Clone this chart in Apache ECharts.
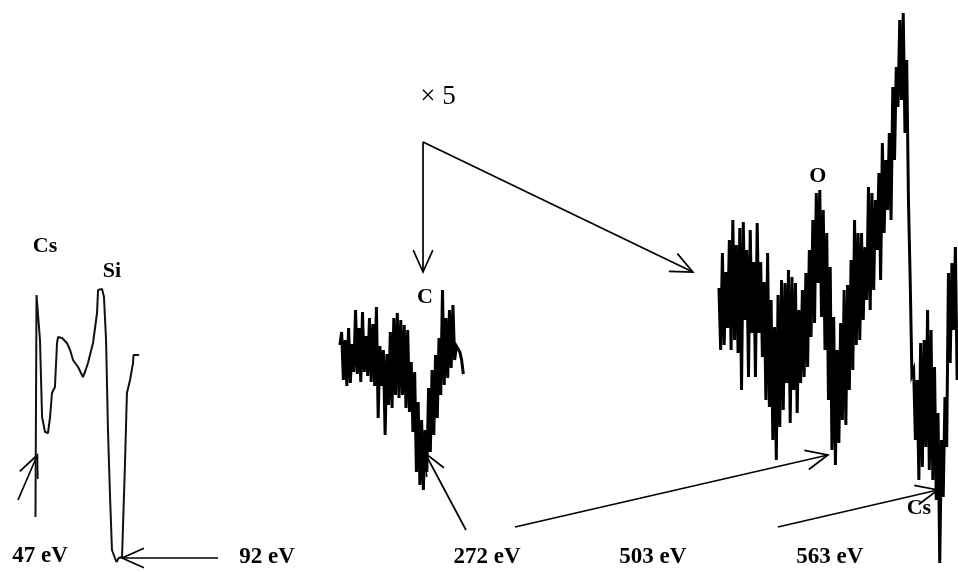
<!DOCTYPE html>
<html>
<head>
<meta charset="utf-8">
<script src="https://cdn.jsdelivr.net/npm/echarts@6/dist/echarts.min.js"></script>
<style>
  html, body { margin: 0; padding: 0; background: #fff; }
  #chart { width: 958px; height: 572px; }
</style>
</head>
<body>
<div id="chart"></div>
<script>
// Auger electron spectrum, dN/dE in arbitrary units against kinetic energy (eV).

// Low-energy part (Cs and Si transitions), recorded at normal gain
const lowEnergy = [45.9, 46.5, 48.5, 49.7, 51.4, 53.1, 54.3, 55.4, 57.1, 58.3,
  58.9, 61.2, 64.0, 65.8, 67.5, 70.4, 73.2, 74.4, 76.1, 79.0,
  81.3, 81.9, 84.2, 85.3, 86.5, 87.6, 88.8, 89.9, 91.6, 92.5,
  93.8, 95.7, 97.4, 98.5, 100.3, 102.0, 102.3, 104.3, 104.8, 105.5];
const lowSignal = [55, 277, 232, 155, 140, 139, 155, 179, 185, 229,
  235, 234, 229, 222, 212, 205, 195, 200, 209, 229,
  259, 282, 283, 275, 232, 142, 75, 22, 14, 10,
  14, 15, 109, 179, 192, 209, 217, 217, 215, 217];

// Carbon window (x5 gain), one reading per eV starting at cScanStart
const cScanStart = 221;
const cSignal = [227, 240, 192, 232, 186, 244, 189, 228, 200, 262,
  198, 244, 190, 260, 200, 236, 196, 254, 190, 248,
  186, 265, 154, 226, 186, 222, 137, 218, 167, 240,
  164, 254, 177, 259, 174, 252, 177, 247, 164, 242,
  160, 210, 140, 200, 100, 170, 87, 152, 82, 142,
  100, 184, 120, 202, 137, 217, 154, 234, 177, 282,
  187, 254, 194, 262, 204, 267, 212, 226, 224, 220,
  212, 198];

// Oxygen / Cs MNN window (x5 gain), one reading per eV starting at oScanStart
const oScanStart = 439;
const oSignal = [284, 222, 319, 227, 300, 244, 332, 222, 352, 232,
  327, 219, 344, 182, 350, 252, 322, 195, 342, 239,
  310, 195, 349, 239, 310, 215, 290, 172, 319, 165,
  272, 132, 245, 112, 277, 145, 292, 162, 289, 189,
  302, 149, 295, 182, 289, 159, 262, 189, 282, 195,
  299, 205, 322, 235, 352, 249, 379, 289, 382, 255,
  362, 222, 339, 172, 305, 122, 255, 107, 222, 129,
  249, 152, 282, 147, 287, 182, 312, 202, 352, 227,
  339, 232, 339, 252, 325, 272, 385, 262, 379, 282,
  372, 322, 399, 292, 429, 339, 412, 362, 439, 352,
  485, 412, 505, 465, 552, 472, 559, 439, 512, 372,
  292, 197, 202, 132, 192, 92, 229, 105, 232, 125,
  262, 102, 242, 92, 205, 72, 159, 9, 132, 75,
  175, 125, 299, 209, 309, 242, 325, 192];

// Element assignments and marked transition energies
const peakNames = ['Cs', 'Si', 'C', 'O', 'Cs'];
const markedEnergies = [47, 92, 272, 503, 563];
const gainNote = '\u00d7 5';

// ---- annotation layout (energy / intensity units) ----
const peakLabelAt = [[51.4, 326], [89.9, 301], [269.9, 275], [495.9, 396], [554.0, 64]];
const energyLabelAt = [[48.5, 16], [179.1, 15], [305.6, 15], [401.0, 15], [502.8, 15]];
const energyArrowTail = [[35.85, 72], [150.9, 14], [293.5, 42], [321.7, 45], [472.9, 45]];
const energyArrowTipShift = [0, 3.7, -2.1, -1.3, 1.9];
const energyArrowTipLevel = [117, 14, 119, 117, 82];
const gainNoteAt = [277.4, 475];
const gainBracketCorner = [268.8, 430];
const gainBracketTips = [[268.8, 300], [424.0, 300]];

const lowData = lowEnergy.map((e, i) => [e, lowSignal[i]]);
const cData = cSignal.map((v, i) => [cScanStart + i, v]);
const oData = oSignal.map((v, i) => [oScanStart + i, v]);

const arrows = markedEnergies.map((e, i) => [
  energyArrowTail[i][0], energyArrowTail[i][1],
  e + energyArrowTipShift[i], energyArrowTipLevel[i]
]);
gainBracketTips.forEach(t => arrows.push([gainBracketCorner[0], gainBracketCorner[1], t[0], t[1]]));

const texts = [];
peakNames.forEach((n, i) => texts.push([peakLabelAt[i][0], peakLabelAt[i][1], n, 'peak']));
markedEnergies.forEach((e, i) => texts.push([energyLabelAt[i][0], energyLabelAt[i][1], e + ' eV', 'energy']));
texts.push([gainNoteAt[0], gainNoteAt[1], gainNote, 'gain']);

const SERIF = '"Liberation Serif", "Times New Roman", serif';

function renderArrow(params, api) {
  const a = api.coord([api.value(0), api.value(1)]);
  const b = api.coord([api.value(2), api.value(3)]);
  const ang = Math.atan2(b[1] - a[1], b[0] - a[0]);
  const len = 24, spread = 0.42;
  const h1 = [b[0] - len * Math.cos(ang - spread), b[1] - len * Math.sin(ang - spread)];
  const h2 = [b[0] - len * Math.cos(ang + spread), b[1] - len * Math.sin(ang + spread)];
  const st = { stroke: '#000', lineWidth: 1.7, fill: null };
  return {
    type: 'group',
    children: [
      { type: 'polyline', shape: { points: [a, b] }, style: st },
      { type: 'polyline', shape: { points: [h1, b, h2] }, style: st }
    ]
  };
}

function renderText(params, api) {
  const item = texts[params.dataIndex];
  const p = api.coord([item[0], item[1]]);
  const kind = item[3];
  let font;
  if (kind === 'gain') font = { fontSize: 27, fontWeight: 'normal' };
  else if (kind === 'energy') font = { fontSize: 23, fontWeight: 'bold' };
  else font = { fontSize: 22, fontWeight: 'bold' };
  return {
    type: 'text',
    x: p[0], y: p[1],
    style: {
      text: item[2],
      fontFamily: SERIF,
      fontSize: font.fontSize,
      fontWeight: font.fontWeight,
      fill: '#000',
      align: 'center',
      verticalAlign: 'middle'
    }
  };
}

const chart = echarts.init(document.getElementById('chart'), null, { renderer: 'canvas' });
chart.setOption({
  animation: false,
  backgroundColor: '#fff',
  grid: { left: 0, right: 0, top: 0, bottom: 0 },
  xAxis: { type: 'value', min: 25.5, max: 576.5, show: false },
  yAxis: { type: 'value', min: 0, max: 572, show: false },
  series: [
    {
      type: 'line', data: lowData, showSymbol: false, clip: false,
      lineStyle: { color: '#111', width: 2 }
    },
    {
      type: 'line', data: cData, showSymbol: false, clip: false,
      lineStyle: { color: '#000', width: 3, join: 'miter' }
    },
    {
      type: 'line', data: oData, showSymbol: false, clip: false,
      lineStyle: { color: '#000', width: 3, join: 'miter' }
    },
    {
      type: 'custom', renderItem: renderArrow, data: arrows, clip: false,
      encode: { x: [0, 2], y: [1, 3] }, silent: true
    },
    {
      type: 'custom', renderItem: renderText, data: texts.map(t => [t[0], t[1]]), clip: false,
      encode: { x: 0, y: 1 }, silent: true
    }
  ]
});
</script>
</body>
</html>
